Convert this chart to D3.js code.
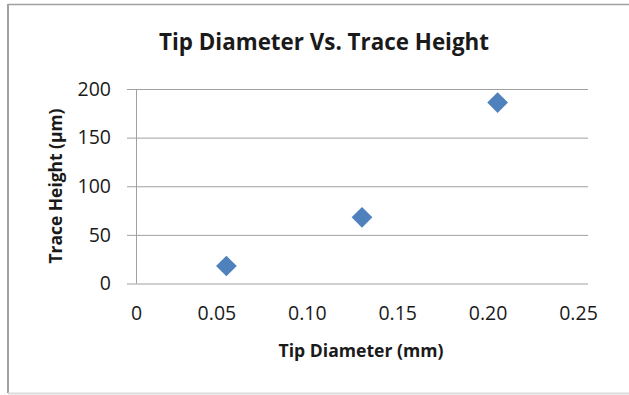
<!DOCTYPE html>
<html>
    <head>
        <meta charset="utf-8">
        <script src="https://d3js.org/d3.v7.min.js"></script>
        <title>Tip Diameter Vs. Trace Height</title>
        <style>
            body { margin: 0; background-color: #fff }
            text { font-family: "Open Sans", "Noto Sans", sans-serif; fill: #1a1a1a }
        </style>
    </head>
    <body>
        <script>
            /* data */
            const tipDiameter = [0.05, 0.125, 0.2]
            const traceHeight = [18, 68, 186]
            const xTicks = [0, 0.05, 0.10, 0.15, 0.20, 0.25]
            const yTicks = [0, 50, 100, 150, 200]
            const chartTitle = 'Tip Diameter Vs. Trace Height'
            const xTitle = 'Tip Diameter (mm)'
            const yTitle = 'Trace Height (\u00b5m)'

            /* canvas setup */
            const width = 629
            const height = 395
            const plot = { left: 136, right: 588, top: 89, bottom: 283.5 }

            const svg = d3.select('body')
                .append('svg')
                    .attr('width', width)
                    .attr('height', height)

            // chart frame
            svg.append('rect')
                .attr('x', 0).attr('y', 0)
                .attr('width', width).attr('height', height)
                .attr('fill', '#fff')
            svg.append('line')
                .attr('x1', 8).attr('x2', width).attr('y1', 4.5).attr('y2', 4.5)
                .attr('stroke', '#a0a0a0').attr('stroke-width', 1.5)
            svg.append('line')
                .attr('x1', 8).attr('x2', 8).attr('y1', 4).attr('y2', height - 2)
                .attr('stroke', '#a0a0a0').attr('stroke-width', 2)
            svg.append('line')
                .attr('x1', 8).attr('x2', width).attr('y1', height - 1.5).attr('y2', height - 1.5)
                .attr('stroke', '#dcdcdc').attr('stroke-width', 2)

            const xScale = d3.scaleLinear().domain([0, 0.25]).range([plot.left, plot.right])
            const yScale = d3.scaleLinear().domain([0, 200]).range([plot.bottom, plot.top])

            /* gridlines + y axis with outer tick marks */
            const yAxis = svg.append('g')
                .attr('transform', `translate(${plot.left},0)`)
                .call(d3.axisLeft(yScale).tickValues(yTicks).tickSize(9).tickPadding(16))
            yAxis.select('.domain').attr('stroke', '#a0a0a0').attr('d', `M0.5,${plot.top}V${plot.bottom}`)
            yAxis.selectAll('.tick line').attr('stroke', '#a0a0a0').attr('x2', plot.right - plot.left).attr('x1', -9)
            yAxis.selectAll('.tick text')
                .style('font-size', '19.5px')
                .style('font-family', '"Open Sans", sans-serif')
                .attr('fill', '#1a1a1a')

            /* x axis: labels only, no tick marks */
            const xAxis = svg.append('g')
                .attr('transform', `translate(0,${plot.bottom})`)
                .call(d3.axisBottom(xScale).tickValues(xTicks).tickSize(0).tickPadding(23)
                    .tickFormat(d => d === 0 ? '0' : d3.format('.2f')(d)))
            xAxis.select('.domain').remove()
            xAxis.selectAll('.tick text')
                .attr('dx', d => d === 0 ? 0 : -10)
                .style('font-size', '19.5px')
                .style('font-family', '"Open Sans", sans-serif')
                .attr('fill', '#1a1a1a')

            /* titles */
            svg.append('text')
                .attr('x', 324).attr('y', 49.5)
                .attr('text-anchor', 'middle')
                .attr('textLength', 330).attr('lengthAdjust', 'spacingAndGlyphs')
                .style('font-size', '23px').style('font-weight', 'bold')
                .text(chartTitle)

            svg.append('text')
                .attr('x', 361).attr('y', 357)
                .attr('text-anchor', 'middle')
                .attr('textLength', 165).attr('lengthAdjust', 'spacingAndGlyphs')
                .style('font-size', '17.5px').style('font-weight', 'bold')
                .text(xTitle)

            svg.append('text')
                .attr('transform', 'translate(62,186) rotate(-90)')
                .attr('text-anchor', 'middle')
                .attr('textLength', 155).attr('lengthAdjust', 'spacingAndGlyphs')
                .style('font-size', '17.5px').style('font-weight', 'bold')
                .text(yTitle)

            /* points: diamond markers */
            const dataset = tipDiameter.map((d, i) => [d, traceHeight[i]])
            svg.selectAll('path.point')
                .data(dataset)
                .join('path')
                    .attr('class', 'point')
                    .attr('d', d3.symbol(d3.symbolSquare, 215))
                    .attr('transform', d => `translate(${xScale(d[0])},${yScale(d[1])}) rotate(45)`)
                    .attr('fill', '#4f81bd')
        </script>
    </body>
</html>
